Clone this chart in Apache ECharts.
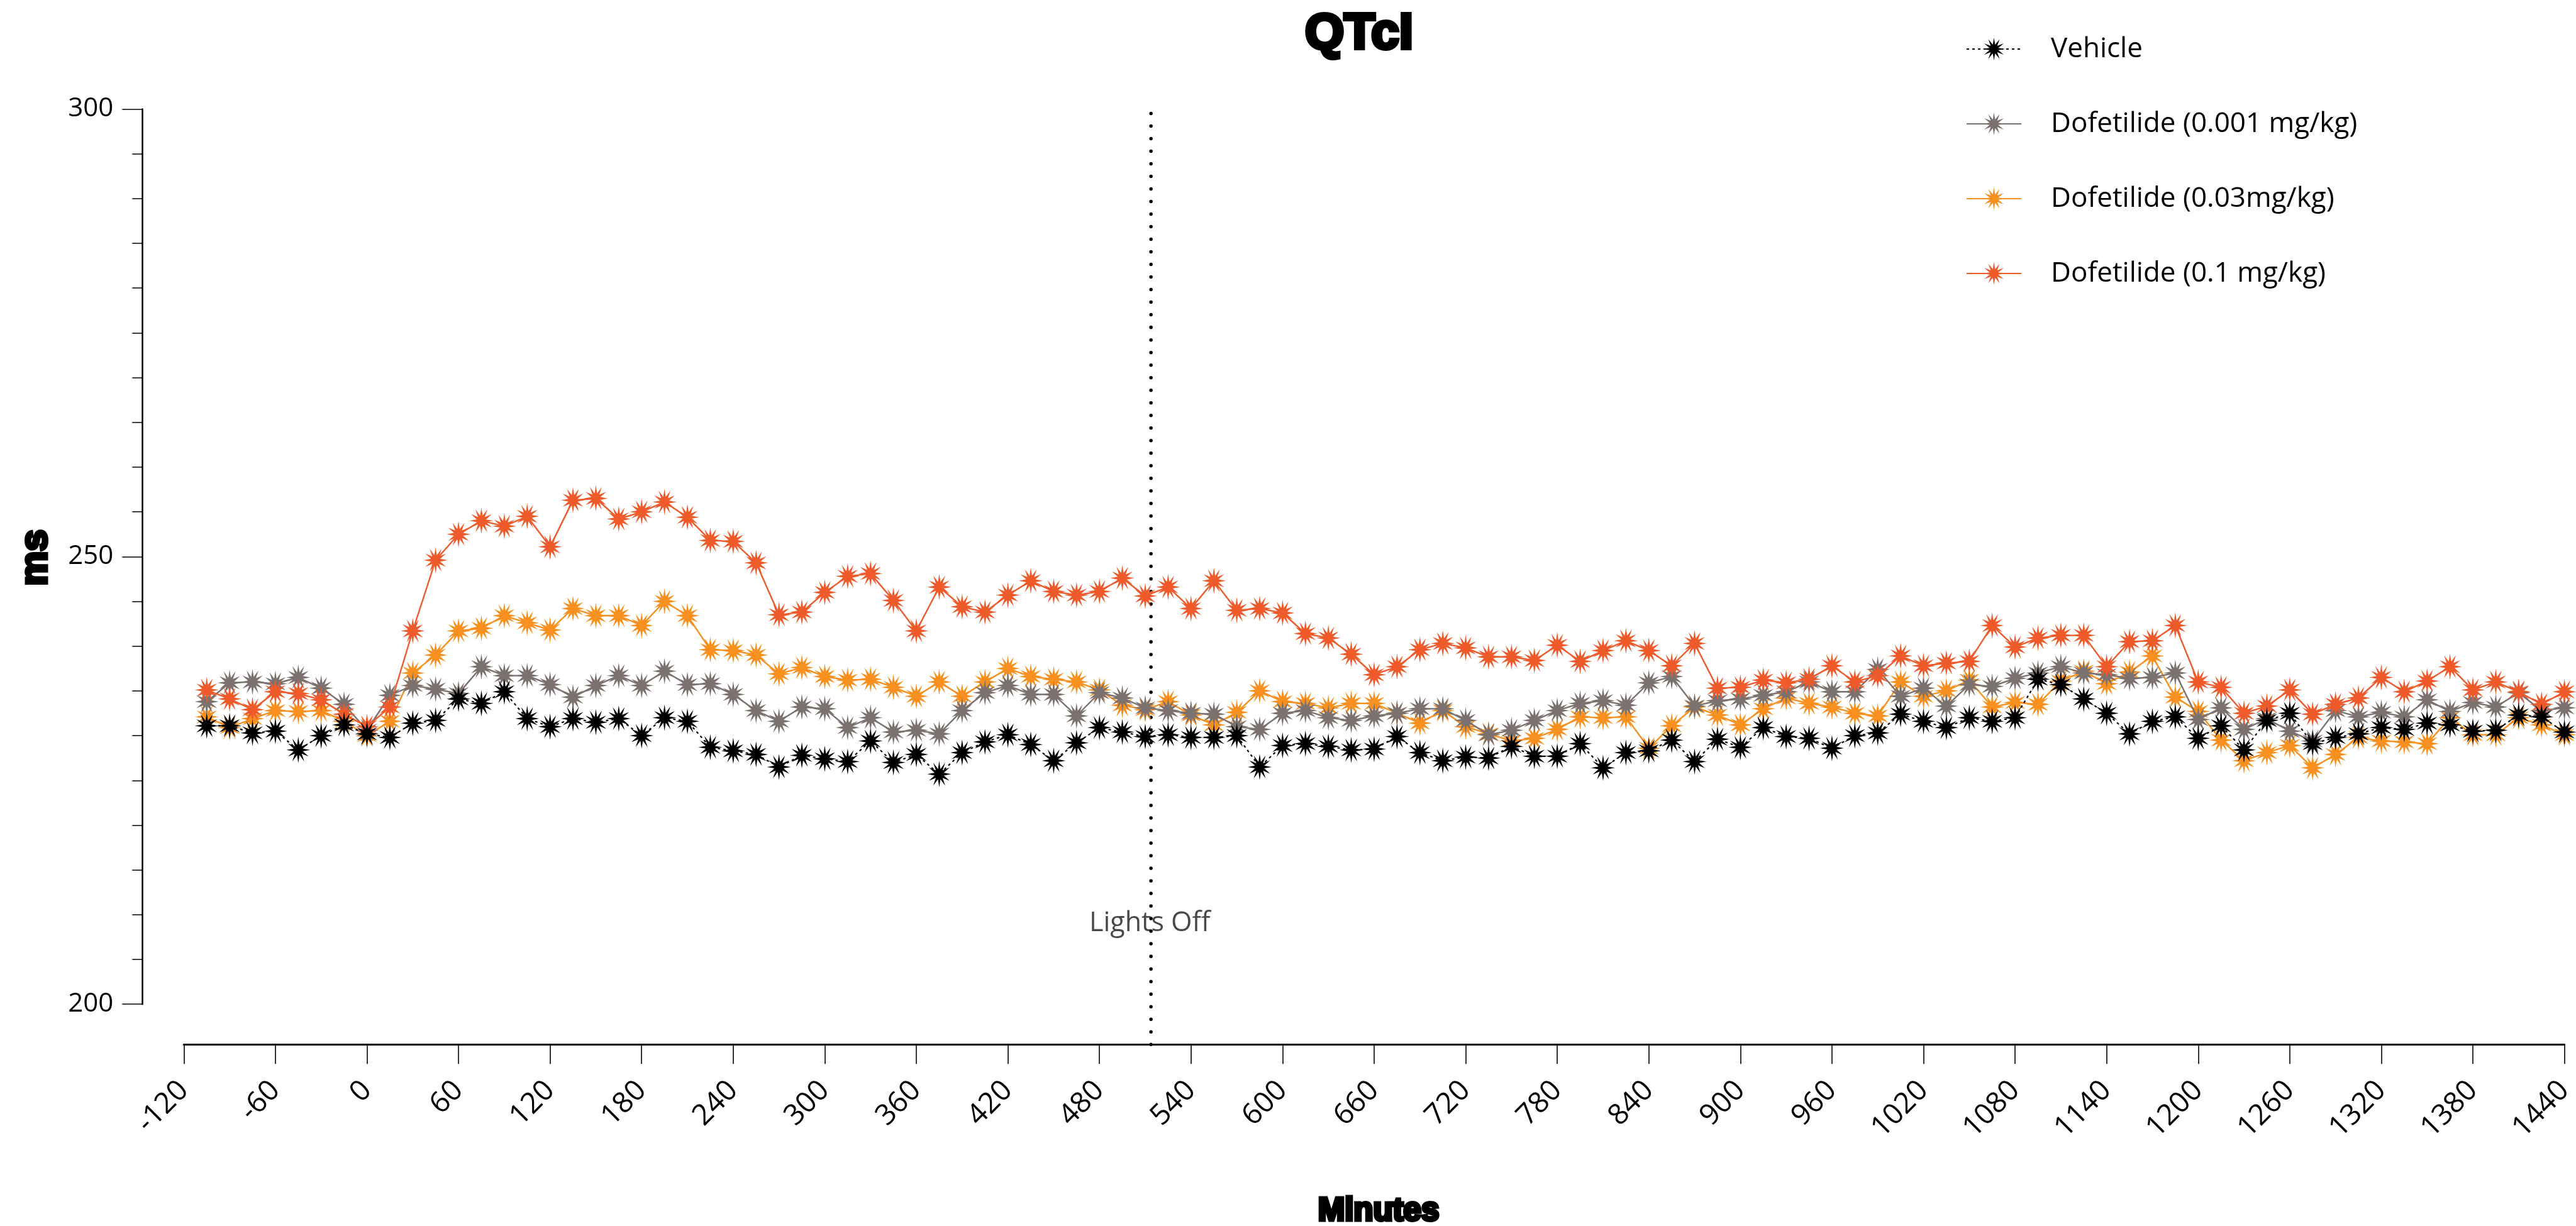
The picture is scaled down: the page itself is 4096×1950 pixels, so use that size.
<!DOCTYPE html>
<html>
<head>
<meta charset="utf-8">
<title>QTcI</title>
<script src="https://cdn.jsdelivr.net/npm/echarts@6/dist/echarts.min.js"></script>
<style>
  html, body { margin: 0; padding: 0; background: #ffffff; }
  #chart { width: 4096px; height: 1950px; }
</style>
</head>
<body>
<div id="chart"></div>
<script>
// Time points (minutes relative to dosing), one reading every 15 min
const minutes = [
  -105, -90, -75, -60, -45, -30, -15, 0, 15, 30,
  45, 60, 75, 90, 105, 120, 135, 150, 165, 180,
  195, 210, 225, 240, 255, 270, 285, 300, 315, 330,
  345, 360, 375, 390, 405, 420, 435, 450, 465, 480,
  495, 510, 525, 540, 555, 570, 585, 600, 615, 630,
  645, 660, 675, 690, 705, 720, 735, 750, 765, 780,
  795, 810, 825, 840, 855, 870, 885, 900, 915, 930,
  945, 960, 975, 990, 1005, 1020, 1035, 1050, 1065, 1080,
  1095, 1110, 1125, 1140, 1155, 1170, 1185, 1200, 1215, 1230,
  1245, 1260, 1275, 1290, 1305, 1320, 1335, 1350, 1365, 1380,
  1395, 1410, 1425, 1440
];

// QTcI (ms) per group
const vehicle = [
  231.1, 231.1, 230.3, 230.5, 228.4, 230.0, 231.2, 230.2, 229.8, 231.4,
  231.7, 234.1, 233.6, 234.9, 231.9, 231.0, 231.9, 231.5, 231.9, 230.0,
  232.0, 231.6, 228.7, 228.3, 227.9, 226.5, 227.8, 227.4, 227.1, 229.4,
  227.0, 227.9, 225.7, 228.1, 229.3, 230.1, 229.0, 227.2, 229.2, 230.9,
  230.4, 229.9, 230.1, 229.8, 229.8, 230.0, 226.5, 228.9, 229.1, 228.8,
  228.4, 228.5, 229.9, 228.1, 227.2, 227.6, 227.5, 228.8, 227.7, 227.7,
  229.1, 226.4, 228.1, 228.3, 229.5, 227.1, 229.6, 228.7, 230.9, 229.9,
  229.7, 228.6, 230.0, 230.3, 232.4, 231.6, 230.9, 232.0, 231.6, 232.0,
  236.3, 235.7, 234.1, 232.5, 230.2, 231.6, 232.1, 229.7, 231.1, 228.4,
  231.7, 232.5, 229.1, 229.8, 230.2, 230.9, 230.7, 231.4, 231.2, 230.5,
  230.6, 232.3, 232.1, 230.4
];
const dofetilideLow = [
  233.8, 235.9, 236.0, 235.8, 236.5, 235.3, 233.5, 230.6, 234.5, 235.6,
  235.2, 234.7, 237.7, 236.7, 236.7, 235.7, 234.3, 235.6, 236.7, 235.6,
  237.2, 235.7, 235.8, 234.6, 232.8, 231.6, 233.2, 233.0, 230.9, 232.0,
  230.4, 230.6, 230.2, 232.8, 234.8, 235.6, 234.6, 234.6, 232.2, 234.8,
  234.2, 233.1, 232.8, 232.5, 232.4, 231.0, 230.7, 232.5, 232.8, 232.0,
  231.7, 232.2, 232.5, 233.0, 233.0, 231.7, 230.1, 230.6, 231.7, 232.8,
  233.6, 233.9, 233.4, 235.9, 236.6, 233.3, 233.9, 234.1, 234.5, 234.9,
  236.0, 234.9, 234.9, 237.4, 234.4, 235.3, 233.3, 235.7, 235.5, 236.4,
  237.0, 237.7, 237.0, 236.8, 236.4, 236.5, 237.0, 231.8, 233.1, 230.7,
  231.9, 230.5, 229.4, 232.8, 232.1, 232.6, 232.1, 234.0, 232.7, 233.7,
  233.2, 234.8, 232.8, 233.1
];
const dofetilideMid = [
  232.1, 230.9, 231.9, 232.8, 232.7, 232.8, 231.6, 230.0, 231.6, 237.0,
  239.0, 241.7, 242.0, 243.4, 242.6, 241.8, 244.2, 243.4, 243.4, 242.3,
  245.0, 243.4, 239.6, 239.5, 239.0, 236.9, 237.6, 236.6, 236.2, 236.3,
  235.4, 234.4, 236.0, 234.4, 236.0, 237.5, 236.6, 236.3, 236.0, 235.1,
  233.4, 232.9, 233.8, 232.3, 231.2, 232.6, 235.0, 233.8, 233.6, 233.1,
  233.6, 233.6, 232.5, 231.4, 232.8, 231.0, 230.2, 229.4, 229.7, 230.7,
  232.1, 232.0, 232.1, 228.6, 231.1, 233.2, 232.3, 231.2, 233.0, 234.2,
  233.6, 233.2, 232.5, 232.2, 236.0, 234.4, 235.0, 236.2, 233.2, 233.7,
  233.5, 236.1, 237.2, 235.8, 237.1, 238.9, 234.3, 232.7, 229.5, 227.2,
  228.1, 228.9, 226.4, 227.9, 229.8, 229.4, 229.3, 229.1, 232.0, 230.1,
  230.1, 232.0, 231.2, 230.1
];
const dofetilideHigh = [
  235.1, 234.1, 232.9, 234.9, 234.7, 234.0, 232.4, 231.0, 233.2, 241.7,
  249.6, 252.5, 254.0, 253.4, 254.5, 251.1, 256.3, 256.5, 254.2, 255.0,
  256.1, 254.4, 251.8, 251.7, 249.3, 243.5, 243.8, 246.0, 247.8, 248.1,
  245.1, 241.7, 246.6, 244.4, 243.8, 245.7, 247.3, 246.1, 245.7, 246.1,
  247.6, 245.6, 246.6, 244.2, 247.3, 244.0, 244.2, 243.7, 241.4, 240.9,
  239.1, 236.8, 237.7, 239.6, 240.3, 239.8, 238.8, 238.8, 238.4, 240.1,
  238.3, 239.5, 240.6, 239.5, 237.8, 240.3, 235.3, 235.4, 236.2, 235.9,
  236.3, 237.8, 236.0, 236.7, 238.9, 237.8, 238.1, 238.3, 242.3, 239.9,
  240.9, 241.2, 241.2, 237.7, 240.5, 240.6, 242.3, 236.0, 235.4, 232.5,
  233.3, 235.1, 232.4, 233.5, 234.2, 236.5, 234.9, 236.1, 237.7, 235.1,
  236.0, 234.9, 233.5, 234.9
];

const seriesNames = [
  'Vehicle',
  'Dofetilide (0.001 mg/kg)',
  'Dofetilide (0.03mg/kg)',
  'Dofetilide (0.1 mg/kg)'
];

// Axis ranges and tick spacing
const xAxisRange = { min: -120, max: 1440, step: 60 };
const yAxisRange = { min: 200, max: 300, step: 50, minorPerMajor: 10 };

// Lights-off annotation
const lightsOffMinute = 513;
const lightsOffLabelValue = 209;
const lightsOffText = 'Lights Off';

// Burst marker: thin spikes around a small core
function burstPath(spikes, inner) {
  const pts = [];
  for (let k = 0; k < spikes * 2; k++) {
    const r = (k % 2 === 0) ? 1 : inner;
    const a = Math.PI * k / spikes - Math.PI / 2;
    pts.push((50 + 50 * r * Math.cos(a)).toFixed(2) + ' ' + (50 + 50 * r * Math.sin(a)).toFixed(2));
  }
  return 'path://M' + pts.join(' L') + ' Z';
}
const BURST = burstPath(12, 0.4);

function pairs(values) {
  return minutes.map((m, i) => [m, values[i]]);
}

const LABEL_FONT = '"Open Sans", "Liberation Sans", sans-serif';
const HEAVY_FONT = '"Liberation Sans Narrow", "Liberation Sans", sans-serif';

// Plot-area geometry in window pixels
const plot = { left: 292.3, right: 13.8, top: 173.4, bottom: 352.8 };
const xAxisDrop = 64;   // x axis sits below the 200 ms level
const yAxisShift = 66;  // y axis sits left of the first x tick

const styles = [
  { color: '#000000', width: 2.2, type: [4, 5], z: 5 },
  { color: '#7b716f', width: 2.4, type: 'solid', z: 3 },
  { color: '#f8901f', width: 2.4, type: 'solid', z: 2 },
  { color: '#ef5a2b', width: 2.4, type: 'solid', z: 4 }
];
const groups = [vehicle, dofetilideLow, dofetilideMid, dofetilideHigh];

const dataSeries = groups.map((vals, k) => ({
  name: seriesNames[k],
  type: 'line',
  xAxisIndex: 0,
  yAxisIndex: 0,
  data: pairs(vals),
  z: styles[k].z,
  symbol: BURST,
  symbolSize: [38, 42],
  showSymbol: true,
  itemStyle: { color: styles[k].color },
  lineStyle: { color: styles[k].color, width: styles[k].width, type: styles[k].type },
  emphasis: { disabled: true },
  clip: false
}));

const chart = echarts.init(document.getElementById('chart'), null, { renderer: 'canvas' });

chart.setOption({
  animation: false,
  backgroundColor: '#ffffff',
  grid: [
    { left: plot.left, right: plot.right, top: plot.top, bottom: plot.bottom, containLabel: false },
    { left: plot.left, right: plot.right, top: plot.top, bottom: plot.bottom - xAxisDrop, containLabel: false }
  ],
  xAxis: [
    {
      type: 'value',
      gridIndex: 0,
      min: xAxisRange.min,
      max: xAxisRange.max,
      interval: xAxisRange.step,
      offset: xAxisDrop,
      splitLine: { show: false },
      axisLine: { show: true, onZero: false, lineStyle: { color: '#000', width: 3 } },
      axisTick: { show: true, inside: false, length: 31, lineStyle: { color: '#000', width: 1.6 } },
      axisLabel: {
        show: true, rotate: 45, margin: 66, color: '#000',
        fontFamily: LABEL_FONT, fontSize: 46, showMaxLabel: true, showMinLabel: true,
        formatter: (v) => String(v)
      }
    },
    {
      type: 'value', gridIndex: 1, show: false,
      min: xAxisRange.min, max: xAxisRange.max
    }
  ],
  yAxis: [
    {
      type: 'value',
      gridIndex: 0,
      min: yAxisRange.min,
      max: yAxisRange.max,
      interval: yAxisRange.step,
      offset: yAxisShift,
      splitLine: { show: false },
      axisLine: { show: true, onZero: false, lineStyle: { color: '#000', width: 2.5 } },
      axisTick: { show: true, inside: false, length: 32, lineStyle: { color: '#000', width: 1.5 } },
      minorTick: { show: true, splitNumber: yAxisRange.minorPerMajor, length: 16, lineStyle: { color: '#000', width: 1.5 } },
      minorSplitLine: { show: false },
      axisLabel: { show: true, margin: 46, color: '#000', fontFamily: LABEL_FONT, fontSize: 42 }
    },
    { type: 'value', gridIndex: 1, show: false, min: 0, max: 1 }
  ],
  legend: {
    data: seriesNames,
    orient: 'vertical',
    left: 3121,
    top: 51,
    itemWidth: 87,
    itemHeight: 45,
    itemGap: 75,
    selectedMode: false,
    textStyle: { color: '#000', fontFamily: LABEL_FONT, fontSize: 44, padding: [0, 0, 0, 42] }
  },
  graphic: [
    {
      type: 'text', x: 2161, y: 55, silent: true,
      style: {
        text: 'QTcI', font: 'bold 80px ' + HEAVY_FONT, fill: '#000',
        stroke: '#000', lineWidth: 6, align: 'center', verticalAlign: 'middle'
      }
    },
    {
      type: 'text', x: 57, y: 887, rotation: Math.PI / 2, silent: true,
      style: {
        text: 'ms', font: 'bold 62px ' + HEAVY_FONT, fill: '#000',
        stroke: '#000', lineWidth: 5, align: 'center', verticalAlign: 'middle'
      }
    },
    {
      type: 'text', x: 2192, y: 1927, silent: true,
      style: {
        text: 'Minutes', font: 'bold 51px ' + HEAVY_FONT, fill: '#000',
        stroke: '#000', lineWidth: 5, align: 'center', verticalAlign: 'middle'
      }
    }
  ],
  series: [
    {
      name: 'lights-off-line',
      type: 'line',
      xAxisIndex: 1,
      yAxisIndex: 1,
      data: [[lightsOffMinute, 0], [lightsOffMinute, 1]],
      symbol: 'none',
      silent: true,
      z: 1,
      lineStyle: { color: '#000', width: 5.5, type: [0.01, 20], cap: 'round' }
    },
    {
      name: 'lights-off-label',
      type: 'scatter',
      xAxisIndex: 0,
      yAxisIndex: 0,
      data: [[lightsOffMinute, lightsOffLabelValue]],
      symbolSize: 0,
      silent: true,
      z: 1,
      label: {
        show: true, position: 'inside', formatter: () => lightsOffText,
        color: '#1a1a1a', fontFamily: LABEL_FONT, fontSize: 43
      }
    }
  ].concat(dataSeries)
});
</script>
</body>
</html>
